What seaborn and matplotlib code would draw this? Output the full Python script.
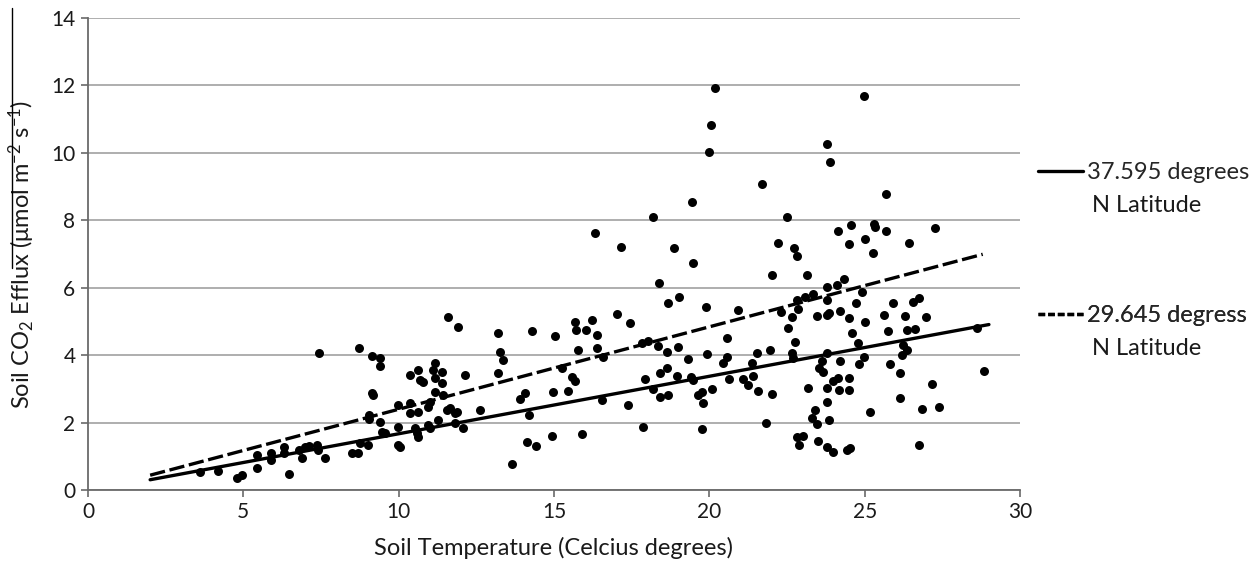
import numpy as np
import pandas as pd
import matplotlib
matplotlib.use("Agg")
import matplotlib.pyplot as plt
from matplotlib.lines import Line2D
import seaborn as sns

# ---------------- data ----------------
soil_temp = [
    3.6, 4.2, 4.8, 4.95, 5.45, 5.45, 5.9, 5.9, 6.3, 6.3, 6.47, 6.8, 6.88, 7.0, 7.1, 7.37, 7.4, 7.63, 7.45,
    8.5, 8.69, 8.75, 9.0, 8.72, 9.14, 9.4, 9.4, 9.14, 9.17, 9.04, 9.04, 9.4, 9.45, 9.55, 9.98, 9.98, 9.98,
    10.05, 10.36, 10.62, 10.69, 10.78, 10.36, 10.62, 10.36, 10.52, 10.62, 10.59, 11.17, 11.1, 11.39, 11.17,
    11.39, 11.17, 11.43, 11.0, 10.94, 11.55, 11.65, 11.81, 11.88, 11.26, 10.94, 11.0, 11.81, 12.07, 11.59,
    11.9, 12.13, 12.62,
    13.2, 13.26, 13.36, 13.2, 13.65, 13.9, 14.06, 14.13, 14.42, 14.29, 14.19, 14.97, 14.93, 15.03, 15.45,
    20.18, 20.05, 19.99, 21.69, 19.44, 18.18, 22.5, 16.32, 17.15, 18.86, 19.47, 22.2, 22.72, 22.82, 22.01,
    23.14, 18.38, 18.67, 19.02, 19.89, 20.92, 23.08, 22.82, 22.85, 22.66, 22.53, 22.3, 23.33, 15.67, 15.71,
    16.03, 16.22, 16.38, 17.03, 17.44, 15.77, 16.38, 16.58, 17.83, 18.02, 18.35, 18.64, 18.99, 19.31, 19.92,
    20.57, 20.57, 20.44, 21.53, 21.95, 21.37, 15.26, 15.58, 15.67, 17.93, 18.41, 18.64, 18.96, 19.4, 19.47,
    18.18, 18.41, 18.67, 19.63, 19.76, 20.08, 19.79, 20.63, 21.08, 21.24, 21.4, 21.56, 22.01, 17.38, 16.55,
    15.9, 17.86, 19.76, 21.82, 22.82, 23.01, 22.88,
    24.98, 23.78, 23.88, 25.68, 24.14, 24.56, 24.49, 25.3, 25.33, 25.0, 25.68, 25.27, 23.78, 24.11, 24.33,
    24.91, 24.72, 25.91, 24.2, 23.78, 23.46, 23.78, 23.85, 24.49, 25.0, 25.62, 24.59, 25.75, 22.75, 24.78,
    22.66, 22.69, 23.78, 23.62, 23.53, 23.66, 24.2, 24.98, 24.81, 25.81, 23.17, 23.78, 23.98, 24.14, 24.17,
    24.49, 24.49, 23.78, 23.4, 23.3, 23.46, 23.85, 25.17, 23.5, 23.78, 23.98, 24.43, 24.53,
    27.26, 26.42, 26.55, 26.75, 26.3, 26.97, 26.36, 26.62, 28.61, 26.23, 26.36, 26.2, 26.14, 28.84, 27.16,
    26.14, 26.84, 27.39, 26.75,
]
co2_efflux = [
    0.53, 0.56, 0.36, 0.45, 0.65, 1.04, 1.1, 0.9, 1.28, 1.1, 0.47, 1.19, 0.95, 1.28, 1.3, 1.33, 1.19, 0.95, 4.07,
    1.1, 1.1, 1.39, 1.33, 4.21, 3.97, 3.91, 3.68, 2.88, 2.82, 2.22, 2.1, 2.02, 1.72, 1.69, 2.52, 1.87, 1.33,
    1.28, 3.41, 3.56, 3.26, 3.2, 2.58, 2.31, 2.28, 1.84, 1.57, 1.69, 3.77, 3.56, 3.5, 3.32,
    3.17, 2.91, 2.82, 2.61, 2.46, 2.37, 2.43, 2.28, 2.31, 2.08, 1.93, 1.84, 1.99, 1.84, 5.13,
    4.83, 3.41, 2.37,
    4.66, 4.09, 3.86, 3.47, 0.77, 2.7, 2.88, 1.42, 1.31, 4.72, 2.22, 2.91, 1.6, 4.57, 2.94,
    11.92, 10.83, 10.03, 9.08, 8.54, 8.1, 8.1, 7.62, 7.21, 7.18, 6.73, 7.33, 7.18, 6.94, 6.38,
    6.38, 6.14, 5.55, 5.73, 5.43, 5.34, 5.73, 5.64, 5.37, 5.13, 4.81, 5.28, 5.81, 4.98, 4.75,
    4.75, 5.04, 4.6, 5.22, 4.96, 4.15, 4.21, 3.95, 4.36, 4.42, 4.27, 4.09, 4.24, 3.89, 4.03,
    4.51, 3.95, 3.77, 4.06, 4.15, 3.77, 3.62, 3.35, 3.23, 3.29, 3.47, 3.62, 3.38, 3.35, 3.26,
    3.0, 2.76, 2.82, 2.82, 2.91, 3.0, 2.58, 3.29, 3.29, 3.11, 3.38, 2.94, 2.85, 2.52, 2.67,
    1.66, 1.87, 1.81, 1.99, 1.57, 1.6, 1.33,
    11.69, 10.26, 9.73, 8.78, 7.68, 7.86, 7.3, 7.89, 7.8, 7.45, 7.68, 7.03, 6.02, 6.08, 6.26,
    5.87, 5.55, 5.55, 5.31, 5.64, 5.16, 5.19, 5.25, 5.1, 4.98, 5.19, 4.66, 4.72, 4.39, 4.36,
    4.06, 3.92, 4.06, 3.83, 3.62, 3.5, 3.83, 3.95, 3.74, 3.74, 3.03, 3.03, 3.23, 3.32, 2.97,
    3.32, 2.97, 2.61, 2.37, 2.14, 1.96, 2.08, 2.31, 1.45, 1.28, 1.13, 1.19, 1.25,
    7.77, 7.33, 5.58, 5.7, 5.16, 5.13, 4.75, 4.78, 4.81, 4.3, 4.15, 4.0, 3.47, 3.53, 3.14,
    2.73, 2.4, 2.46, 1.33,
]

# regression lines (slope, intercept, x-range) per latitude
lat_labels = ["37.595 degrees", "29.645 degress"]
lat_second_line = ["N Latitude", "N Latitude"]
fit_slope = [0.1705, 0.2445]
fit_intercept = [-0.037, -0.05]
fit_xmin = [2.0, 2.0]
fit_xmax = [29.0, 28.8]

x_ticks = [0, 5, 10, 15, 20, 25, 30]
y_ticks = [0, 2, 4, 6, 8, 10, 12, 14]
x_label = "Soil Temperature (Celcius degrees)"
y_label = r"Soil CO$_2$ Efflux ($\mathregular{\mu}$mol m$^{\mathregular{-2}}$ s$^{\mathregular{-1}}$)"

# ---------------- style ----------------
sns.set_theme(style="white")
plt.rcParams["font.family"] = ["Lato", "DejaVu Sans"]
plt.rcParams["mathtext.fontset"] = "custom"
plt.rcParams["mathtext.rm"] = "Lato"
plt.rcParams["mathtext.it"] = "Lato:italic"
plt.rcParams["mathtext.bf"] = "Lato:bold"
plt.rcParams["axes.unicode_minus"] = False

fig = plt.figure(figsize=(12.56, 5.67), dpi=100)
ax = fig.add_axes([88 / 1256, 1 - 490 / 567, 932 / 1256, 472 / 567])

pts = pd.DataFrame({"temp": soil_temp, "flux": co2_efflux})
sns.scatterplot(data=pts, x="temp", y="flux", ax=ax, color="black", s=42,
                linewidth=0, zorder=3, legend=False)

styles = ["-", (0, (4.6, 1.4))]
handles = []
for i in range(2):
    xs = np.array([fit_xmin[i], fit_xmax[i]])
    line_df = pd.DataFrame({"temp": xs, "flux": fit_intercept[i] + fit_slope[i] * xs})
    sns.lineplot(data=line_df, x="temp", y="flux", ax=ax, color="black",
                 linewidth=2.4, linestyle=styles[i], zorder=4, legend=False)
    handles.append(Line2D([], [], color="black", linewidth=2.4,
                          linestyle="-" if i == 0 else (0, (2.0, 0.9))))

ax.set_xlim(0, 30)
ax.set_ylim(0, 14)
ax.set_xticks(x_ticks)
ax.set_yticks(y_ticks)
ax.yaxis.grid(True, color="#a8a8a8", linewidth=1.3)
ax.xaxis.grid(False)
ax.set_axisbelow(True)
for s in ["top", "right"]:
    ax.spines[s].set_visible(False)
for s in ["left", "bottom"]:
    ax.spines[s].set_color("#6a6a6a")
    ax.spines[s].set_linewidth(1.3)
ax.tick_params(axis="both", which="major", direction="out", length=5, width=1.2,
               color="#6a6a6a", labelsize=15, labelcolor="#1a1a1a", pad=4, left=True, bottom=True)

ax.set_xlabel(x_label, fontsize=17, color="#1a1a1a")
ax.set_ylabel(y_label, fontsize=17, color="#1a1a1a")
ax.yaxis.set_label_coords(-0.055, 0.5)
ax.xaxis.set_label_coords(0.5, -0.1)

# legend: two separate entries outside the plot, first line aligned with handle
row_y = [0.672, 0.369]
for i in range(2):
    leg = ax.legend([handles[i]], [lat_labels[i]], loc="center left",
                    bbox_to_anchor=(1.019, row_y[i]), frameon=False, fontsize=17,
                    handlelength=1.9, handletextpad=0.2, borderaxespad=0, borderpad=0)
    ax.add_artist(leg)
    ax.text(1.077, row_y[i] - 33 / 472, lat_second_line[i], transform=ax.transAxes,
            fontsize=17, va="center", ha="left", color="#1a1a1a")

# thin vertical rule at the far left of the reference image
fig.add_artist(Line2D([12 / 1256, 12 / 1256], [1 - 8 / 567, 1 - 268 / 567],
                      transform=fig.transFigure, color="black", linewidth=1.0))

fig.savefig("out.png", dpi=100)
